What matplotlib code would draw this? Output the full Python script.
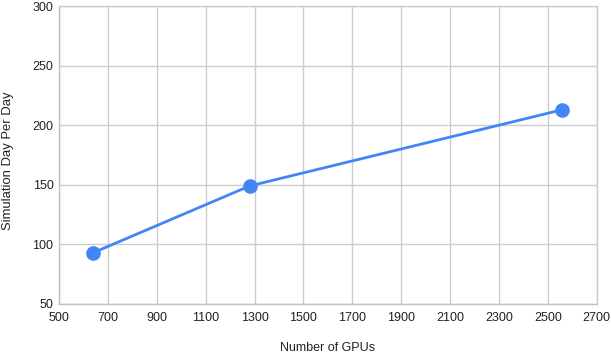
import matplotlib
matplotlib.use("Agg")
import matplotlib.pyplot as plt

# =========================================================
# Datos
# =========================================================

gpus = [640, 1280, 2560]
sim_days = [93, 149, 213]

x_ticks = list(range(500, 2701, 200))
y_ticks = list(range(50, 301, 50))

plt.rcParams["font.family"] = ["Liberation Sans", "DejaVu Sans"]

fig = plt.figure(figsize=(6.11, 3.53), dpi=100)
ax = fig.add_axes([0.0966, 0.139, 0.880, 0.844])

ax.plot(
    gpus,
    sim_days,
    color="#4285F4",
    linewidth=2,
    marker="o",
    markersize=9.5,
    zorder=3,
    clip_on=False
)

ax.set_xlim(500, 2700)
ax.set_ylim(50, 300)
ax.set_xticks(x_ticks)
ax.set_yticks(y_ticks)

ax.grid(color="#cccccc", linewidth=1)
ax.set_axisbelow(True)
for s in ax.spines.values():
    s.set_color("#cccccc")
    s.set_linewidth(1)
ax.spines["left"].set_color("#c0c0c0")
ax.spines["bottom"].set_color("#c0c0c0")

ax.tick_params(axis="x", length=0, labelsize=9, colors="#222222", pad=6)
ax.tick_params(axis="y", length=0, labelsize=9, colors="#222222", pad=4)

ax.set_xlabel("Number of GPUs", fontsize=9, color="#222222", labelpad=13)
ax.set_ylabel("Simulation Day Per Day", fontsize=9.4, color="#222222", labelpad=12)
ax.yaxis.set_label_coords(-0.083, 0.48)

fig.savefig("out.png", dpi=100)
